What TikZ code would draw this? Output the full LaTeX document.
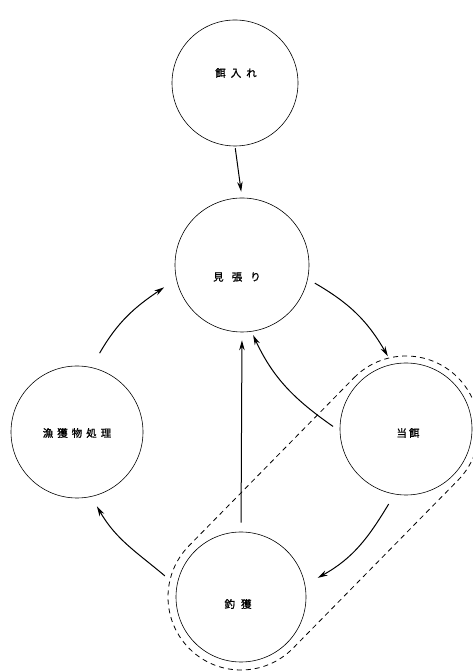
\documentclass[tikz,border=0pt]{standalone}
\usepackage{fontspec}
\newfontfamily\jpfont[FakeBold=1.2]{Noto Sans CJK JP}
\usetikzlibrary{arrows.meta}
\tikzset{
  stage/.style={draw, circle, line width=0.6pt, inner sep=0pt},
  lbl/.style={font=\jpfont\fontsize{10.5}{12}\selectfont, inner sep=0pt},
  flow/.style={line width=1pt, -{Stealth[length=10pt,width=5.5pt]}},
  group/.style={line width=0.8pt, dash pattern=on 5pt off 4pt}
}
\begin{document}
\begin{tikzpicture}[x=1pt,y=1pt]
\useasboundingbox (0,0) rectangle (473,671);
% circles
\node[stage, minimum size=126pt] (feed)  at (235,588) {};
\node[stage, minimum size=134pt] (watch) at (242,406) {};
\node[stage, minimum size=132pt] (proc)  at (77,239) {};
\node[stage, minimum size=132pt] (bait)  at (406,242) {};
\node[stage, minimum size=130pt] (catch) at (241,74) {};
% labels
\node[lbl] (tfeed)  at (236,598) {餌\hspace{5pt}入\hspace{5pt}れ};
\node[lbl] (twatch) at (237,394) {見\hspace{8pt}張\hspace{8pt}り};
\node[lbl] (tproc)  at (77,238)  {漁\hspace{4pt}獲\hspace{4pt}物\hspace{4pt}処\hspace{4pt}理};
\node[lbl] (tbait)  at (408,238) {当\hspace{2pt}餌};
\node[lbl] (tcatch) at (238,67)  {釣\hspace{6pt}獲};
% group outline
\draw[group] ([shift={(135.5:73)}]bait.center)
  arc[start angle=135.5, end angle=-44.5, radius=73]
  -- ([shift={(-44.5:73)}]catch.center)
  arc[start angle=-44.5, end angle=-224.5, radius=73] -- cycle;
% connectors
\draw[flow, shorten <=2pt, shorten >=6pt] (feed.south) -- (watch.north);
\draw[flow] ([shift={(-14:75)}]watch.center) to[out=-30, in=120]
            ([shift={(104:75)}]bait.center);
\draw[flow] ([shift={(178:73)}]bait.center) to[out=145, in=-65]
            ([shift={(-81:71)}]watch.center);
\draw[flow] ([shift={(-103:77)}]bait.center) to[out=-121, in=29]
            ([shift={(14:79)}]catch.center);
\draw[flow, shorten <=9pt, shorten >=8pt] (catch.north) -- (watch.south);
\draw[flow] ([shift={(164.5:79)}]catch.center) to[out=140, in=-60]
            ([shift={(-75:77)}]proc.center);
\draw[flow] ([shift={(74:82)}]proc.center) to[out=60, in=214]
            ([shift={(196:81)}]watch.center);
\end{tikzpicture}
\end{document}
